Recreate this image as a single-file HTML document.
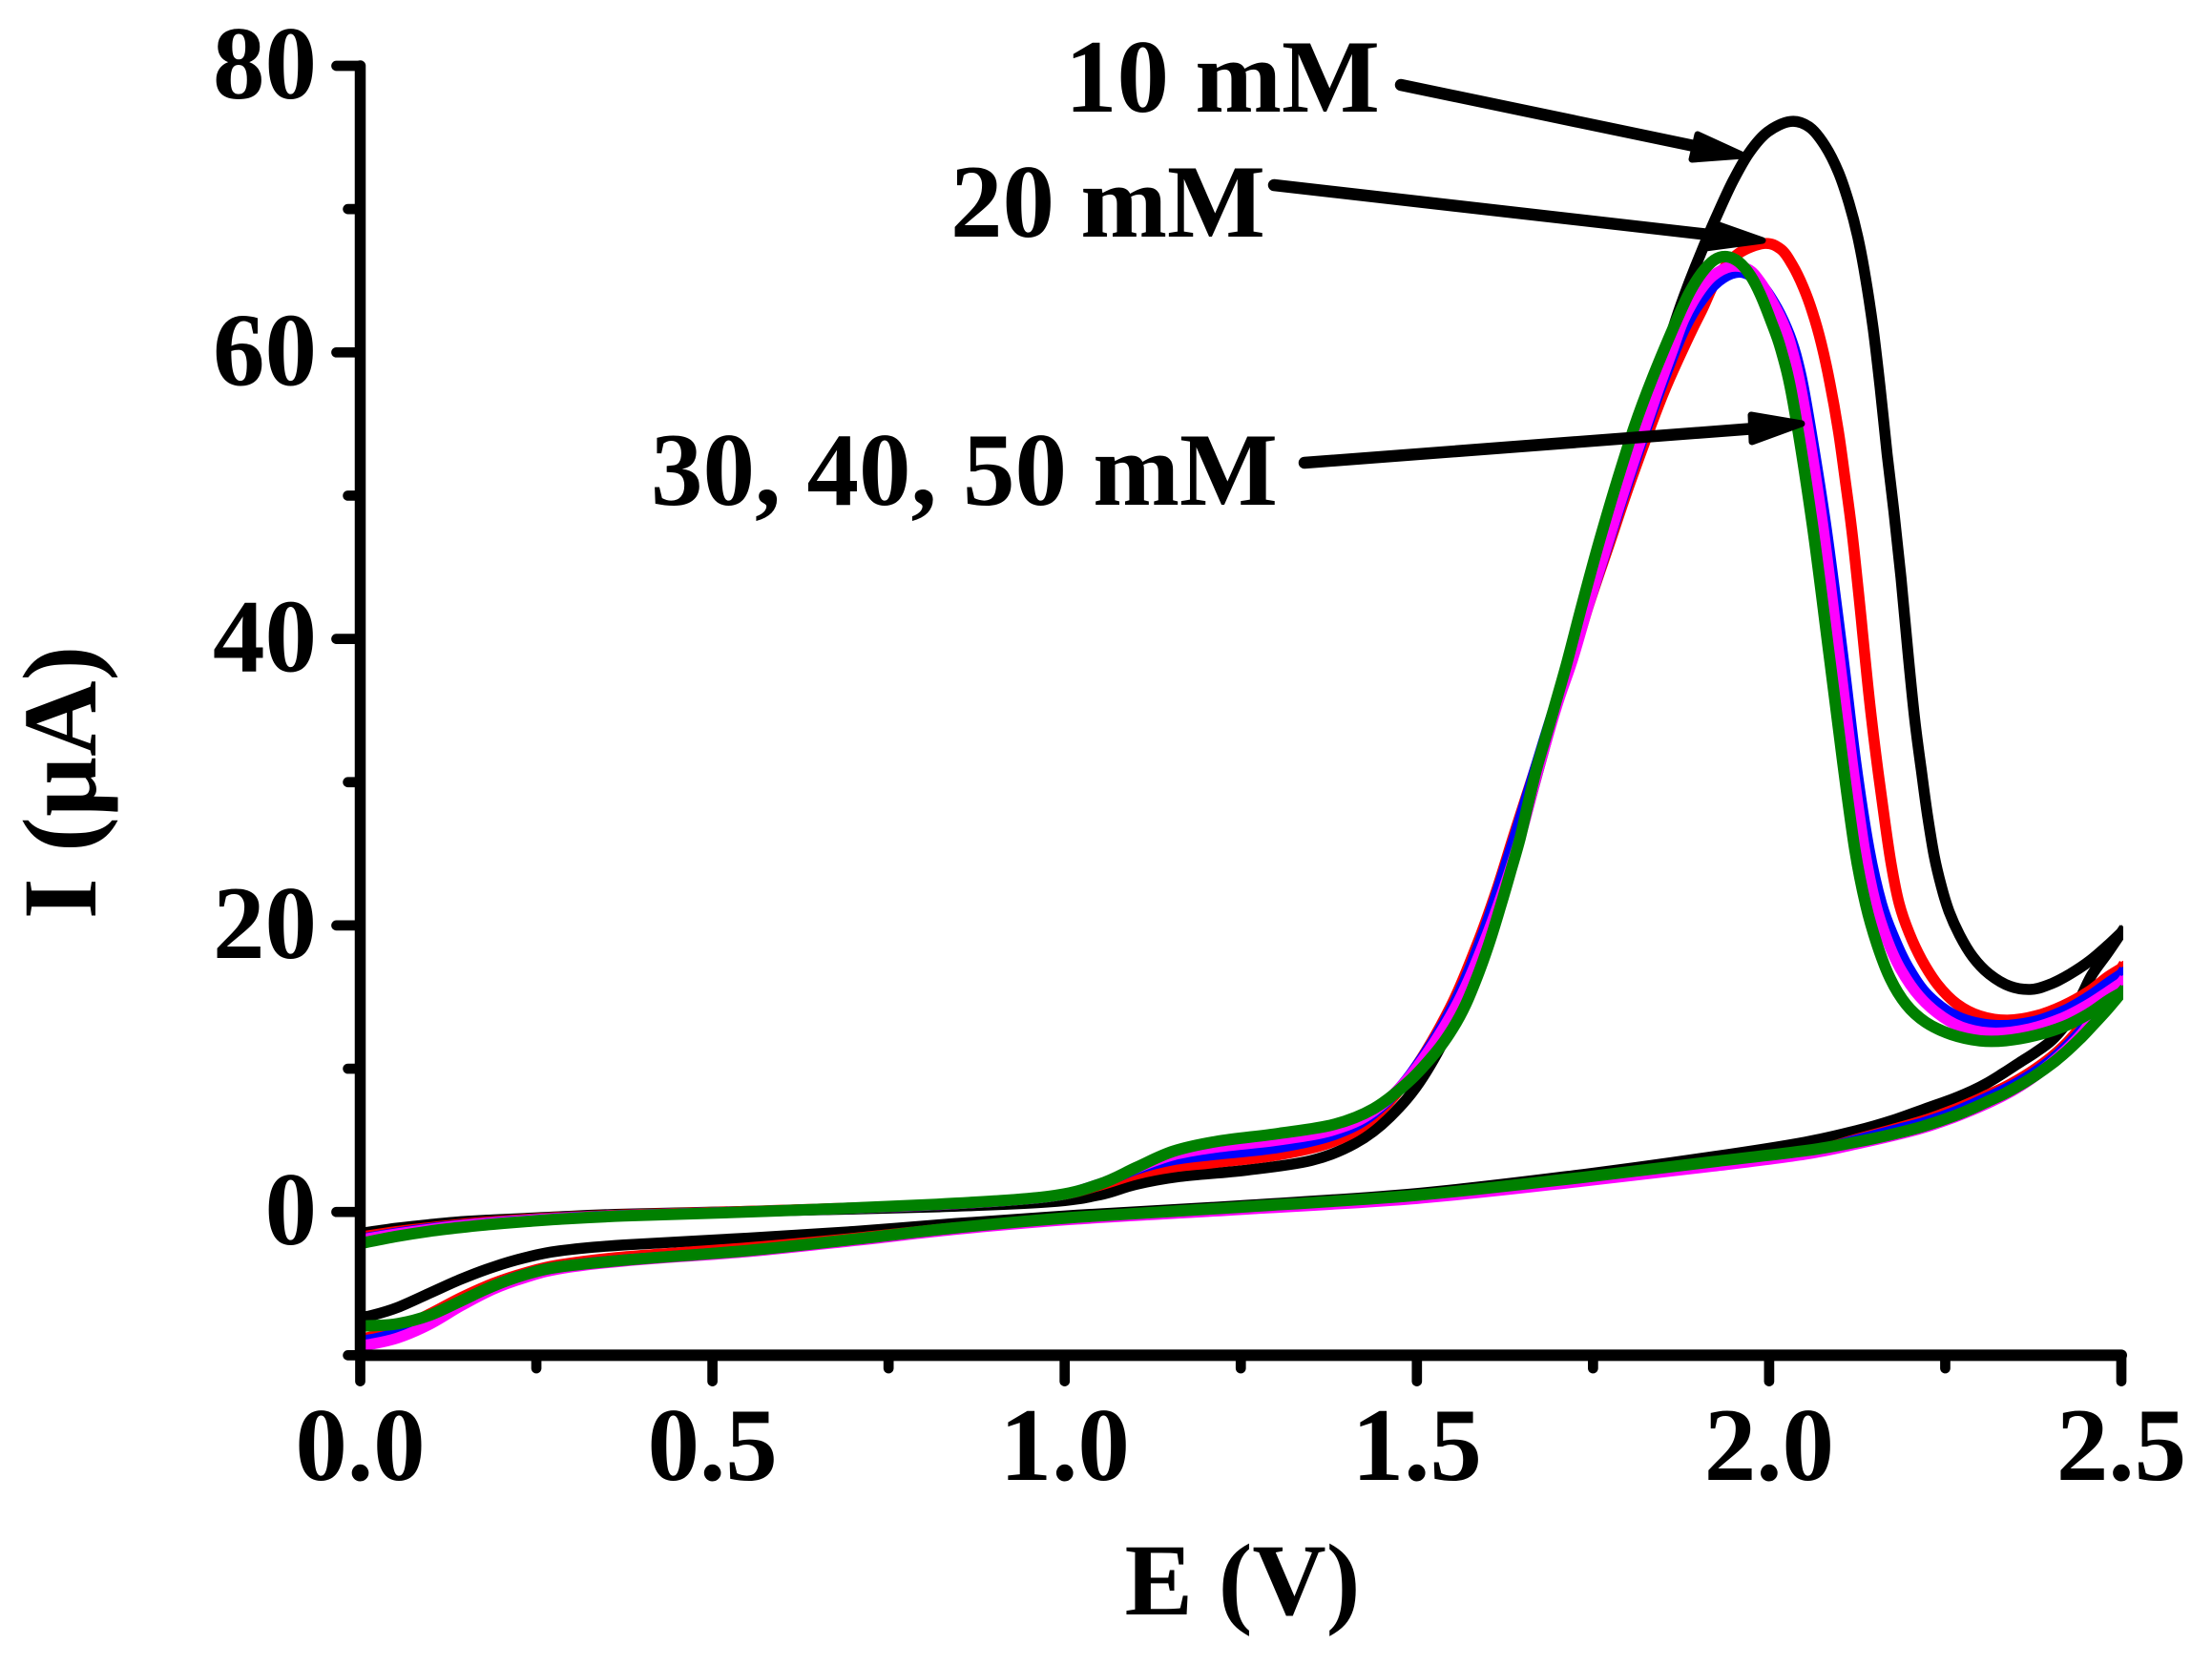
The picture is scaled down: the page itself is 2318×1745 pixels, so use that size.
<!DOCTYPE html>
<html>
<head>
<meta charset="utf-8">
<title>Cyclic voltammetry curves</title>
<style>
html,body{margin:0;padding:0;background:#fff;width:2318px;height:1745px;overflow:hidden}
svg{display:block}
text{font-family:"Liberation Serif",serif;font-weight:bold;fill:#000}
</style>
</head>
<body>
<svg id="chart" xmlns="http://www.w3.org/2000/svg" width="2318" height="1745" viewBox="0 0 2318 1745">
<defs><clipPath id="plot-clip"><rect x="372" y="40" width="1853" height="1385"/></clipPath></defs>
<rect x="0" y="0" width="2318" height="1745" fill="#fff"/>
<g id="curves" clip-path="url(#plot-clip)"></g>
<g id="axes" stroke="#000" stroke-linecap="round" fill="none"></g>
<g id="labels"></g>
<text x="1302" y="1692" font-size="107" text-anchor="middle">E (V)</text>
<text transform="translate(100 820) rotate(-90)" font-size="110" text-anchor="middle">I (µA)</text>
<text x="1116" y="117" font-size="109">10 mM</text>
<text x="996" y="248" font-size="109">20 mM</text>
<text x="682" y="529" font-size="109">30, 40, 50 mM</text>
<g fill="#000" stroke="#000" stroke-linejoin="round">
<line x1="1468" y1="89" x2="1785" y2="155" stroke-width="12.5" stroke-linecap="round"/>
<polygon points="1779,141 1827,163 1773,167" stroke-width="7"/>
</g>
<g fill="#000" stroke="#000" stroke-linejoin="round">
<line x1="1335" y1="194" x2="1800" y2="247" stroke-width="12.5" stroke-linecap="round"/>
<polygon points="1796,234 1847,252 1787,260" stroke-width="7"/>
</g>
<g fill="#000" stroke="#000" stroke-linejoin="round">
<line x1="1367" y1="485" x2="1840" y2="449" stroke-width="12.5" stroke-linecap="round"/>
<polygon points="1835,435 1888,444 1836,463" stroke-width="7"/>
</g>
</svg>
<script>
// Tick values
const xMajorTicks = [0, 0.5, 1.0, 1.5, 2.0, 2.5];
const xMajorLabels = ['0.0', '0.5', '1.0', '1.5', '2.0', '2.5'];
const xMinorTicks = [0.25, 0.75, 1.25, 1.75, 2.25];
const yMajorTicks = [0, 20, 40, 60, 80];
const yMajorLabels = ['0', '20', '40', '60', '80'];
const yMinorTicks = [-10, 10, 30, 50, 70];

// Forward scan: potential (V) and current (uA), per concentration
const blackForwardE = [0,.053,.098,.143,.189,.234,.279,.342,.57,.84,1.0,1.05,1.10,1.153,1.257,1.36,1.412,1.464,1.506,1.565,1.60,1.647,1.672,1.70,1.713,1.742,1.772,1.793,1.84,1.87,1.886,1.904,1.927,1.949,1.972,1.995,2.033,2.058,2.08,2.099,2.114,2.126,2.137,2.148,2.157,2.168,2.177,2.187,2.198,2.207,2.216,2.225,2.234,2.245,2.254,2.27,2.288,2.311,2.342,2.374,2.401,2.428,2.455,2.482,2.5];
const blackForwardI = [-1.5,-1.09,-.9,-.65,-.55,-.45,-.35,-.15,.05,.35,.68,1.1,2,2.5,2.85,3.5,4.6,6.6,8.8,14.4,18.9,26,30.9,35.8,38,42.4,46.9,50.4,58,62.8,64.8,67.1,69.7,72.1,74.06,75.5,76.4,75.9,74.5,72.7,70.4,68.2,65.3,61.7,58,52.4,49.1,44.6,38.4,34,30.9,27.5,24.7,22.6,21,19.3,17.75,16.55,15.6,15.4,15.9,16.6,17.45,18.65,19.5];
const redForwardE = [0,.053,.098,.143,.189,.234,.279,.342,.57,.84,1.0,1.05,1.10,1.155,1.205,1.309,1.387,1.438,1.49,1.553,1.587,1.614,1.635,1.668,1.70,1.72,1.742,1.776,1.798,1.853,1.886,1.904,1.927,1.951,1.999,2.017,2.033,2.049,2.062,2.074,2.086,2.099,2.107,2.117,2.124,2.131,2.137,2.146,2.155,2.164,2.173,2.184,2.198,2.216,2.238,2.266,2.297,2.338,2.379,2.419,2.455,2.482,2.5];
const redForwardI = [-1.75,-1.33,-1.1,-.85,-.65,-.52,-.4,-.22,.05,.5,1,1.9,2.7,3.2,3.4,3.9,4.8,6.3,9.2,14.4,18.9,22.4,26,30.9,35.8,38.2,42.4,46.9,50.4,57.8,61.1,62.8,65.5,67,67.9,67.3,66.2,64.6,62.8,60.8,58,54.6,51.3,48,44.6,41.3,38.2,34,30.6,27.3,24.2,21.3,19.5,17.55,15.8,14.4,13.6,13.25,13.6,14.4,15.3,16.55,17];
const blueForwardE = [0,.053,.098,.143,.189,.234,.279,.342,.57,.84,1.0,1.05,1.10,1.155,1.205,1.309,1.387,1.438,1.49,1.556,1.592,1.638,1.668,1.697,1.72,1.742,1.774,1.795,1.849,1.88,1.911,1.934,1.961,1.99,2.012,2.03,2.042,2.048,2.082,2.106,2.122,2.143,2.159,2.178,2.197,2.222,2.266,2.32,2.379,2.419,2.455,2.482,2.5];
const blueForwardI = [-1.9,-1.45,-1.15,-.92,-.72,-.58,-.43,-.25,.02,.5,1,1.9,3.1,3.7,4,4.4,5.3,6.6,9.2,14.4,18.9,26,30.9,35.8,38.2,42.4,46.9,50.4,58,62,64.2,65.3,65.9,64.9,63.1,61.3,59.1,58,48,38.4,31.3,24.65,21.3,19,17,15.05,13.4,12.85,13.2,14,15,16.05,16.6];
const magentaForwardE = [0,.053,.098,.143,.189,.234,.279,.342,.57,.84,1.0,1.05,1.10,1.155,1.205,1.309,1.387,1.438,1.49,1.561,1.597,1.649,1.671,1.70,1.721,1.742,1.773,1.7935,1.846,1.863,1.877,1.9,1.918,1.945,1.974,1.987,2.005,2.02,2.033,2.045,2.078,2.10,2.118,2.136,2.151,2.167,2.184,2.212,2.248,2.279,2.32,2.37,2.419,2.455,2.482,2.5];
const magentaForwardI = [-1.95,-1.5,-1.2,-.95,-.75,-.6,-.45,-.27,.02,.5,1,1.9,3.1,4.1,4.5,5,5.6,6.8,9.1,14.4,18.9,26,30.9,35.8,38.2,42.4,46.9,50.4,58,60,62.4,64.2,65.4,66.2,65.9,65,63.5,62.2,60.2,58,48,38.4,31.3,24.65,21.3,19,17,14.9,13.45,12.7,12.35,12.7,13.5,14.5,15.4,16];
const greenForwardE = [0,.053,.098,.143,.189,.234,.279,.342,.57,.84,1.0,1.05,1.102,1.155,1.205,1.309,1.387,1.438,1.49,1.534,1.55,1.57,1.588,1.604,1.62,1.633,1.647,1.658,1.669,1.685,1.712,1.734,1.759,1.784,1.809,1.832,1.868,1.886,1.904,1.922,1.94,1.958,1.974,1.987,2.003,2.017,2.03,2.063,2.086,2.105,2.122,2.137,2.153,2.171,2.194,2.22,2.257,2.302,2.333,2.379,2.424,2.455,2.482,2.5];
const greenForwardI = [-2.2,-1.67,-1.33,-1.07,-.84,-.67,-.51,-.29,0,.56,1,1.9,3.1,4.4,4.9,5.5,6,7,9,11.5,12.7,14.4,16.7,18.9,21.5,23.8,26,28.6,30.9,33.5,38,42.4,46.9,51,55,58,62.2,64.2,65.6,66.6,66.8,66.4,65.4,64.2,62.2,60.2,58.2,48,38.4,31.3,24.65,21.3,18.6,16.15,14.35,13.2,12.3,11.85,11.9,12.25,13,13.8,14.85,15.3];

// Reverse scan: shared potentials, current per concentration
const reverseE = [2.5,2.482,2.455,2.446,2.424,2.401,2.379,2.356,2.333,2.311,2.288,2.266,2.22,2.176,2.13,2.064,1.93,1.75,1.5,1.25,1.0,.84,.7,.57,.342,.279,.234,.189,.143,.098,.053,.01,0];
const blackReverseI = [19.5,18.1,16.5,15.3,13.1,11.9,11.15,10.45,9.7,9,8.45,7.95,7.2,6.35,5.75,4.9,3.9,2.7,1.1,.45,-.25,-.8,-1.4,-1.8,-2.33,-2.7,-3.15,-3.8,-4.66,-5.66,-6.77,-7.33,-7.35];
const redReverseI = [17,15.5,13.7,13.1,11.8,10.8,10,9.3,8.65,8.2,7.65,7.2,6.35,5.75,5.25,4.0,3.3,2.3,.8,.25,-.4,-1.1,-1.85,-2.5,-3.15,-3.7,-4.2,-4.93,-5.93,-7.15,-8.3,-8.8,-8.85];
const blueReverseI = [16.6,15.2,13.4,12.8,11.6,10.6,9.8,9.1,8.5,8,7.5,7,6.2,5.65,5.2,4,3.3,2.3,.8,.2,-.45,-1.15,-1.95,-2.7,-3.42,-3.8,-4.3,-5.1,-6.2,-7.7,-8.5,-9,-9];
const magentaReverseI = [16,14.8,13.2,12.5,11.4,10.4,9.5,8.75,8.1,7.6,7.1,6.65,5.85,5.3,4.85,4,3.25,2.25,.75,.2,-.5,-1.2,-2,-2.8,-3.45,-3.95,-4.55,-5.3,-6.5,-7.95,-8.9,-9.3,-9.3];
const greenReverseI = [15.3,14.2,12.8,12.3,11.25,10.3,9.55,8.85,8.2,7.75,7.2,6.75,5.95,5.42,4.95,4.26,3.6,2.5,1.0,.35,-.35,-1.1,-1.9,-2.7,-3.44,-3.8,-4.33,-5.1,-6.2,-7.33,-7.9,-7.95,-7.95];

const NS = 'http://www.w3.org/2000/svg';
const xScale = e => 377.5 + e * (2223 - 377.5) / 2.5;
const yScale = i => 1270.2 - i * (1270.2 - 69) / 80;

// Light pen-stroke smoothing of read points so the curve is free of reading jitter
function relax(points, passes) {
  let out = points;
  for (let p = 0; p < passes; p++) {
    out = out.map((pt, k) => {
      if (k === 0 || k === out.length - 1) return pt;
      return [
        0.2 * out[k - 1][0] + 0.6 * pt[0] + 0.2 * out[k + 1][0],
        0.2 * out[k - 1][1] + 0.6 * pt[1] + 0.2 * out[k + 1][1]
      ];
    });
  }
  return out;
}

function smoothPath(points) {
  let d = 'M' + points[0][0].toFixed(1) + ' ' + points[0][1].toFixed(1);
  for (let k = 0; k < points.length - 1; k++) {
    const p0 = points[Math.max(k - 1, 0)], p1 = points[k], p2 = points[k + 1], p3 = points[Math.min(k + 2, points.length - 1)];
    const c1x = p1[0] + (p2[0] - p0[0]) / 6, c1y = p1[1] + (p2[1] - p0[1]) / 6;
    const c2x = p2[0] - (p3[0] - p1[0]) / 6, c2y = p2[1] - (p3[1] - p1[1]) / 6;
    d += 'C' + c1x.toFixed(1) + ' ' + c1y.toFixed(1) + ' ' + c2x.toFixed(1) + ' ' + c2y.toFixed(1) + ' ' + p2[0].toFixed(1) + ' ' + p2[1].toFixed(1);
  }
  return d;
}

function toPoints(es, is) {
  return es.map((e, k) => [xScale(e), yScale(is[k])]);
}

function drawCurve(name, color, width, fe, fi, ri) {
  const forward = relax(toPoints(fe, fi), 1);
  const reverse = relax(toPoints(reverseE, ri), 1);
  [forward, reverse].forEach((pts, idx) => {
    const path = document.createElementNS(NS, 'path');
    
    
    path.setAttribute('d', smoothPath(pts));
    path.setAttribute('fill', 'none');
    path.setAttribute('stroke', color);
    path.setAttribute('stroke-width', width);
    path.setAttribute('stroke-linejoin', 'round');
    path.setAttribute('stroke-linecap', 'square');
    document.getElementById('curves').appendChild(path);
  });
}

drawCurve('curve-10-mm', '#000000', 11.5, blackForwardE, blackForwardI, blackReverseI);
drawCurve('curve-20-mm', '#ff0000', 11.5, redForwardE, redForwardI, redReverseI);
drawCurve('curve-30-mm', '#0000ff', 11.5, blueForwardE, blueForwardI, blueReverseI);
drawCurve('curve-40-mm', '#ff00ff', 11.5, magentaForwardE, magentaForwardI, magentaReverseI);
drawCurve('curve-50-mm', '#008000', 12, greenForwardE, greenForwardI, greenReverseI);

const axesGroup = document.getElementById('axes');
const labelsGroup = document.getElementById('labels');

function addLine(x1, y1, x2, y2, w, name) {
  const l = document.createElementNS(NS, 'line');
  
  
  l.setAttribute('x1', x1);
  l.setAttribute('y1', y1);
  l.setAttribute('x2', x2);
  l.setAttribute('y2', y2);
  l.setAttribute('stroke-width', w);
  axesGroup.appendChild(l);
}

function addLabel(x, y, str, anchor, name) {
  const t = document.createElementNS(NS, 'text');
  
  
  t.setAttribute('x', x);
  t.setAttribute('y', y);
  t.setAttribute('font-size', '109');
  t.setAttribute('text-anchor', anchor);
  t.textContent = str;
  labelsGroup.appendChild(t);
}

addLine(xScale(0), yScale(80), xScale(0), yScale(-10), 11.5, 'y-axis-line');
addLine(xScale(0), yScale(-10), xScale(2.5), yScale(-10), 12, 'x-axis-line');

xMajorTicks.forEach((v, k) => {
  addLine(xScale(v), yScale(-10), xScale(v), yScale(-10) + 27.3, 10.7, 'x-major-tick');
  addLabel(xScale(v), 1551, xMajorLabels[k], 'middle', 'x-tick-label');
});
xMinorTicks.forEach(v => {
  addLine(xScale(v), yScale(-10), xScale(v), yScale(-10) + 13.7, 10.7, 'x-minor-tick');
});
yMajorTicks.forEach((v, k) => {
  addLine(xScale(0), yScale(v), xScale(0) - 25, yScale(v), 10.7, 'y-major-tick');
  addLabel(332, yScale(v) + 34, yMajorLabels[k], 'end', 'y-tick-label');
});
yMinorTicks.forEach(v => {
  addLine(xScale(0), yScale(v), xScale(0) - 12.9, yScale(v), 10.7, 'y-minor-tick');
});
</script>
</body>
</html>
